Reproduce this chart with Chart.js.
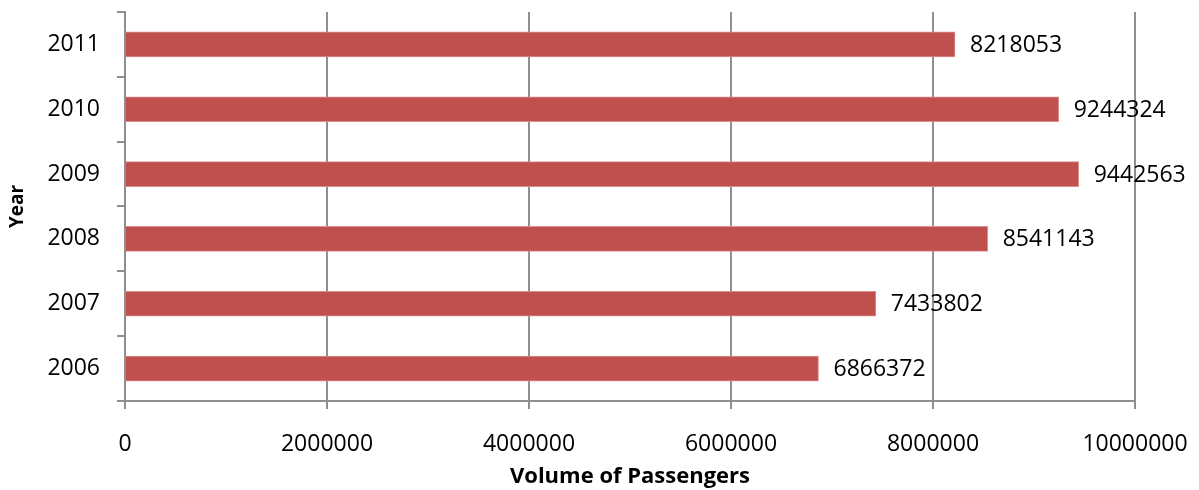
<!DOCTYPE html>
<html>
<head>
<meta charset="utf-8">
<script src="https://cdn.jsdelivr.net/npm/chart.js@4/dist/chart.umd.min.js"></script>
<style>
  html, body { margin: 0; padding: 0; background: #fff; }
  #wrap { width: 1199px; height: 490px; }
</style>
</head>
<body>
<div id="wrap"><canvas id="c" width="1199" height="490"></canvas></div>
<script>
// Annual passenger volumes
const years = ['2006', '2007', '2008', '2009', '2010', '2011'];
const passengers = [6866372, 7433802, 8541143, 9442563, 9244324, 8218053];
const xTicks = [0, 2000000, 4000000, 6000000, 8000000, 10000000];

const FONT = '"Open Sans", "DejaVu Sans", sans-serif';
const GRID = '#8f8f8f';

// Writes each bar's value just past its end
const valueLabels = {
  id: 'valueLabels',
  afterDatasetsDraw(chart) {
    const ctx = chart.ctx;
    const meta = chart.getDatasetMeta(0);
    ctx.save();
    ctx.font = '23px ' + FONT;
    ctx.fillStyle = '#000';
    ctx.textAlign = 'left';
    ctx.textBaseline = 'middle';
    meta.data.forEach((bar, i) => {
      ctx.fillText(String(chart.data.datasets[0].data[i]), bar.x + 15, bar.y + 1);
    });
    ctx.restore();
  }
};

new Chart(document.getElementById('c'), {
  type: 'bar',
  data: {
    labels: years,
    datasets: [{
      data: passengers,
      backgroundColor: '#C0504D',
      borderColor: '#DB8F8D',
      borderWidth: 1,
      borderSkipped: 'left',
      barThickness: 25
    }]
  },
  options: {
    indexAxis: 'y',
    responsive: false,
    animation: false,
    layout: { padding: { top: 12, right: 64, left: 0, bottom: 0 } },
    plugins: { legend: { display: false }, tooltip: { enabled: false } },
    scales: {
      x: {
        min: 0,
        max: 10000000,
        afterBuildTicks(scale) { scale.ticks = xTicks.map(v => ({ value: v })); },
        afterFit(scale) {
          scale.height = 89;
          scale.paddingLeft = 0;
          scale.paddingRight = 0;
        },
        grid: { color: GRID, lineWidth: 2, drawTicks: true, tickLength: 8 },
        border: { display: true, color: GRID, width: 2 },
        ticks: {
          padding: 22,
          color: '#000',
          font: { family: FONT, size: 23 },
          maxRotation: 0,
          callback: v => String(v)
        },
        title: {
          display: true,
          text: 'Volume of Passengers',
          color: '#000',
          font: { family: FONT, size: 22, weight: 'bold' },
          padding: { top: 0, bottom: 0 }
        }
      },
      y: {
        reverse: true,
        offset: true,
        afterFit(scale) {
          scale.width = 125;
          scale.paddingTop = 0;
          scale.paddingBottom = 0;
        },
        grid: {
          offset: true,
          drawOnChartArea: false,
          drawTicks: true,
          tickLength: 8,
          color: GRID,
          lineWidth: 2
        },
        border: { display: true, color: GRID, width: 2 },
        ticks: {
          padding: 17,
          color: '#000',
          font: { family: FONT, size: 23 }
        },
        title: {
          display: true,
          text: 'Year',
          color: '#000',
          font: { family: FONT, size: 19, weight: 'bold' },
          padding: { top: 6, bottom: 0 }
        }
      }
    }
  },
  plugins: [valueLabels]
});
</script>
</body>
</html>
